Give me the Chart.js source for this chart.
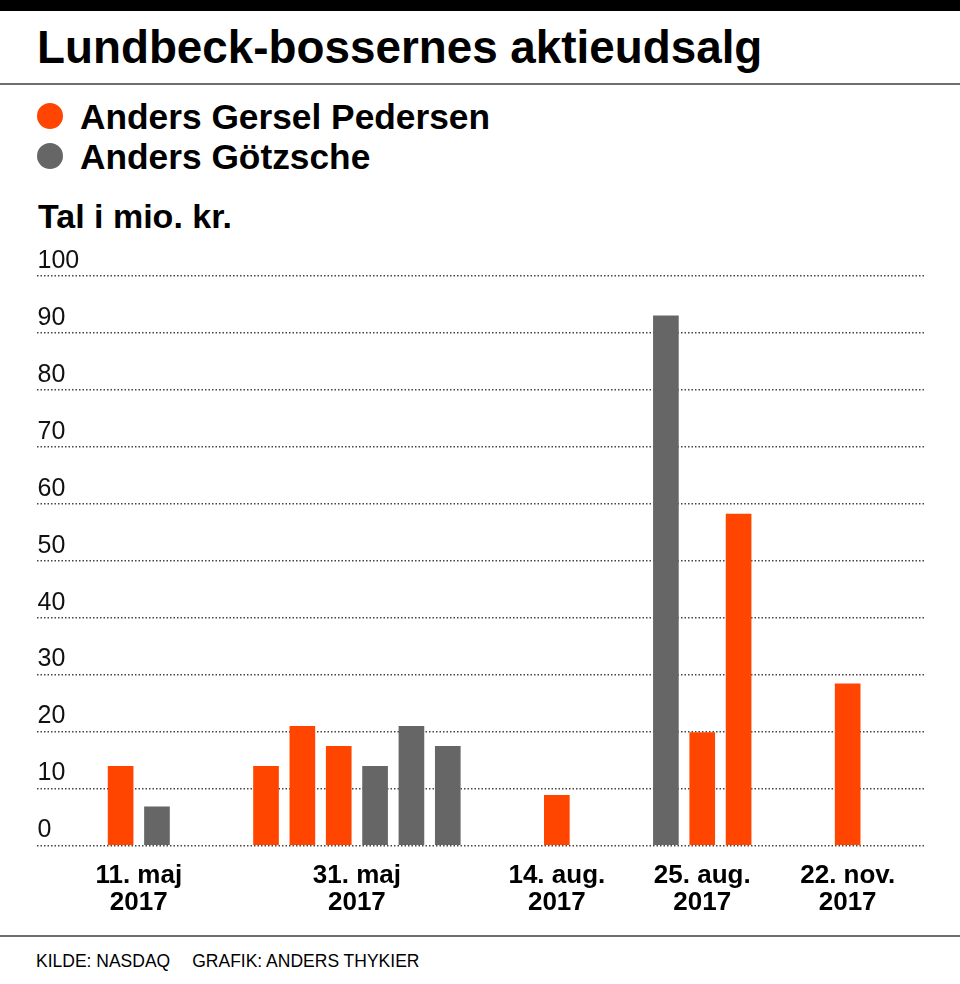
<!DOCTYPE html>
<html>
<head>
<meta charset="utf-8">
<script src="https://cdn.jsdelivr.net/npm/chart.js@4"></script>
<style>
  body { margin: 0; background: #fff; font-family: "Liberation Sans", Arial, sans-serif; color: #000; }
  #page { position: relative; width: 960px; height: 984px; overflow: hidden; }
  .topbar { position: absolute; left: 0; top: 0; width: 960px; height: 11px; background: #000; }
  .rule { position: absolute; left: 0; width: 960px; height: 2px; background: #6e6e6e; }
  h1 { position: absolute; left: 37px; top: 25px; margin: 0; font-size: 45.8px; line-height: 1; font-weight: bold; }
  .legend-item { position: absolute; left: 37px; height: 35px; font-size: 35.3px; line-height: 1; font-weight: bold; white-space: nowrap; }
  .legend-item .dot { position: absolute; left: 0; width: 26px; height: 26px; border-radius: 50%; }
  .legend-item span.txt { position: absolute; left: 43px; top: 0; }
  .unit { position: absolute; left: 38px; top: 199px; font-size: 34px; line-height: 1; font-weight: bold; }
  #chart { position: absolute; left: 0; top: 240px; }
  .footer { position: absolute; left: 36px; top: 953px; font-size: 17.5px; line-height: 1; white-space: nowrap; }
  .footer span + span { margin-left: 22px; }
</style>
</head>
<body>
<div id="page">
  <div class="topbar"></div>
  <h1>Lundbeck-bossernes aktieudsalg</h1>
  <div class="rule" style="top:83px"></div>
  <div id="legend"></div>
  <div class="unit">Tal i mio. kr.</div>
  <canvas id="chart" width="960" height="685"></canvas>
  <div class="rule" style="top:935px"></div>
  <div class="footer"><span>KILDE: NASDAQ</span><span>GRAFIK: ANDERS THYKIER</span></div>
</div>
<script>
// handelsdatoer (x-akse)
const dates = ['11. maj 2017', '31. maj 2017', '14. aug. 2017', '25. aug. 2017', '22. nov. 2017'];
// sælgere
const sellers = ['Anders Gersel Pedersen', 'Anders Götzsche'];
// hver handel: dato-indeks, sælger-indeks, beløb i mio. kr.
const tradeDate   = [0, 0, 1, 1, 1, 1, 1, 1, 2, 3, 3, 3, 4];
const tradeSeller = [0, 1, 0, 0, 0, 1, 1, 1, 0, 1, 0, 0, 0];
const tradeValue  = [13.9, 6.8, 13.9, 20.9, 17.4, 13.9, 20.9, 17.4, 8.8, 93, 19.8, 58.2, 28.4];
// y-akse
const yTicks = [0, 10, 20, 30, 40, 50, 60, 70, 80, 90, 100];

const colors = ['#ff4500', '#666666'];
const GROUP_GAP = 2; // tomme pladser mellem datoerne

// legend
const legend = document.getElementById('legend');
sellers.forEach((name, i) => {
    const item = document.createElement('div');
    item.className = 'legend-item';
    item.style.top = (99 + i * 39.5) + 'px';
    item.innerHTML = '<span class="dot" style="top:4px;background:' + colors[i] + '"></span><span class="txt">' + name + '</span>';
    legend.appendChild(item);
});

// placering af søjler: fortløbende plads + mellemrum mellem datoer
const slots = tradeDate.map((d, i) => i + d * GROUP_GAP);
const groupCenters = dates.map((d, g) => {
    const s = slots.filter((v, i) => tradeDate[i] === g);
    return (Math.min(...s) + Math.max(...s)) / 2;
});

const datasets = sellers.map((name, si) => ({
    label: name,
    data: tradeValue.map((v, i) => ({ x: slots[i], y: v })).filter((p, i) => tradeSeller[i] === si),
    backgroundColor: colors[si],
    borderWidth: 0,
    barThickness: 25,
    grouped: false
}));

Chart.defaults.font.family = '"Liberation Sans", Arial, sans-serif';
Chart.defaults.color = '#000';

new Chart(document.getElementById('chart'), {
    type: 'bar',
    data: { datasets },
    options: {
        responsive: false,
        animation: false,
        layout: { padding: { left: 36, right: 36, top: 36, bottom: 0 } },
        plugins: { legend: { display: false }, tooltip: { enabled: false } },
        scales: {
            x: {
                type: 'linear',
                offset: false,
                min: -2.3,
                max: 22.1,
                grid: { display: false },
                border: { display: false },
                afterBuildTicks: axis => { axis.ticks = groupCenters.map(v => ({ value: v })); },
                ticks: {
                    autoSkip: false,
                    maxRotation: 0,
                    padding: 9,
                    font: { size: 26, weight: 'bold', lineHeight: 1.03 },
                    callback: (value, index) => {
                        const d = dates[index];
                        const cut = d.lastIndexOf(' ');
                        return [d.slice(0, cut), d.slice(cut + 1)];
                    }
                }
            },
            y: {
                min: 0,
                max: 100,
                afterBuildTicks: axis => { axis.ticks = yTicks.map(v => ({ value: v })); },
                grid: { color: '#444', lineWidth: 1.5, drawTicks: false },
                border: { display: false, dash: [1.5, 2] },
                ticks: {
                    mirror: true,
                    padding: 0.5,
                    labelOffset: -15,
                    font: { size: 25 },
                    color: '#111'
                }
            }
        }
    }
});
</script>
</body>
</html>
